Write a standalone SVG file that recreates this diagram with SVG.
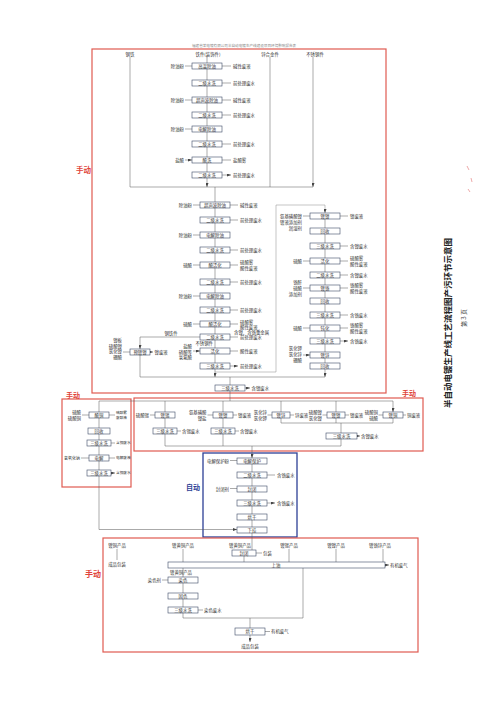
<svg xmlns="http://www.w3.org/2000/svg" width="500" height="707" viewBox="0 0 500 707">
<defs>
<marker id="ar" markerUnits="userSpaceOnUse" markerWidth="4" markerHeight="3" refX="4" refY="1.5" orient="auto"><path d="M0,0 L4,1.5 L0,3 z" fill="#444"/></marker>
<style>
.bx{fill:#fff;stroke:#3d4a66;stroke-width:0.6}
.t{font-family:"Noto Sans CJK SC","Noto Sans",sans-serif;font-size:4.4px;fill:#333}
.s{font-size:3.7px}
.m{text-anchor:middle}
.e{text-anchor:end}
.c{stroke:#555;stroke-width:0.5;fill:none}
.g{stroke:#888;stroke-width:0.5;fill:none}
.a{marker-end:url(#ar)}
.rb{fill:none;stroke:#e05a50;stroke-width:1.2}
.bb{fill:none;stroke:#2d3f96;stroke-width:1.3}
.lab{font-family:"Noto Sans CJK SC",sans-serif;font-size:7.5px;fill:#e0443a;font-weight:bold}
</style>
</defs>
<rect width="500" height="707" fill="#fff"/>
<text class="t" x="192" y="47" style="font-size:3.6px;fill:#888">福建省某电镀有限公司半自动电镀生产线建设项目环境影响报告表</text>
<g id="frames">
<rect class="rb" x="92" y="49" width="294" height="344"/>
<rect class="rb" x="62" y="399" width="69" height="88"/>
<rect class="rb" x="134" y="398" width="289" height="53"/>
<rect class="bb" x="203" y="453" width="94" height="84"/>
<rect class="rb" x="103" y="538" width="315" height="114"/>
<text class="lab" x="76" y="173">手动</text>
<text class="lab" x="66" y="398" style="font-size:7px">手动</text>
<text class="lab" x="402" y="396" style="font-size:7px">手动</text>
<text class="lab" x="186" y="490" style="font-size:7px;fill:#2d3f96">自动</text>
<text class="lab" x="85" y="577" style="font-size:8px">手动</text>
</g>
<g id="title">
<text transform="translate(451,323) rotate(-90)" text-anchor="middle" style="font-family:'Noto Sans CJK SC',sans-serif;font-size:8.5px;font-weight:bold;fill:#222">半自动电镀生产线工艺流程图产污环节示意图</text>
<text transform="translate(466,318) rotate(-90)" text-anchor="middle" style="font-family:'Noto Sans CJK SC',sans-serif;font-size:6px;fill:#444">第 3 页</text>
<path d="M467 166l2 4M471 178l1 4M468 189l2 3" stroke="#e07070" stroke-width="0.6" fill="none"/>
</g>
<g id="connectors">
<path class="c a" d="M130 57V187M270 57V187M313 57V187"/>
<path class="c" d="M130 187H313"/>
<path class="c a" d="M207 57V63M207 69V80M207 86V97M207 103V112M207 118V126M207 132V141M207 147V157M207 163V172M207 178V187"/>
<path class="c a" d="M185 66H192M185 100H192M185 129H192M185 160H192"/>
<path class="c a" d="M222 66H231M222 83H231M222 100H231M222 115H231M222 144H231M222 160H231M222 175H231"/>
<path class="c a" d="M215 187V202M215 208V217M215 223V232M215 238V247M215 253V262M215 268V279M215 285V293M215 299V307M215 313V321M215 327V334M215 340V348M215 354V363M215 369V377"/>
<path class="c a" d="M193 205H200M193 235H200M193 265H200M193 296H200M193 324H200M193 351H200"/>
<path class="c a" d="M230 205H238M230 220H238M230 250H238M230 265H238M230 282H238M230 310H238M230 324H238M230 337H238M230 351H238M230 366H238"/>
<path class="c a" d="M200 337H140V349"/>
<path class="c" d="M140 355V377M140 377H325"/>
<path class="c a" d="M123 352H130M150 352H153"/>
<path class="g a" d="M215 372H276V205H325V213"/>
<path class="c a" d="M325 218V228M325 234V243M325 249V258M325 264V272M325 278V285M325 291V298M325 304V312M325 318V325M325 331V338M325 344V352M325 358V363M325 369V377"/>
<path class="c a" d="M303 216H310M303 261H310M303 288H310M303 328H310M303 355H310"/>
<path class="c a" d="M340 216H348M340 246H348M340 261H348M340 275H348M340 288H348M340 315H348M340 328H348M340 341H348"/>
<path class="c a" d="M230 377V385M245 388H250"/>
<path class="c" d="M230 391V401M99 401H393"/>
<path class="c a" d="M99 401V412M165 401V412M223 401V412M281 401V412M336 401V412M393 401V412"/>
<path class="c a" d="M99 417V428M99 434V440M99 446V455M99 461V470M99 476V529.5H237"/>
<path class="c a" d="M82 415H89M109 415H115M111 443H115M81 458H89M109 458H115M111 473H115"/>
<path class="c a" d="M150 415H155M165 417V428M177 431H181M207.5 415H213M233 415H237M223 417V428M235 431H239M267.5 415H272M290 415H294M322.5 415H327M345 415H349M378.5 415H383M403 415H406M357 436H360"/>
<path class="c" d="M165 434V446M223 434V446M281 417V423M336 417V423M393 417V423M281 423H393M341 439V446M165 446H341"/>
<path class="c a" d="M341 423V433M252 446V458"/>
<path class="c a" d="M252 463V472M252 477V486M252 491V500M252 505V514M252 519V527M252 532V550M230 460.5H237M230 488.5H237M267 475H275M267 503H275"/>
<path class="c a" d="M117 549V560M183 549V562M289 549V562M336 549V562M383 549V562M244 556V562M256 553H262M385 565H389"/>
<path class="c a" d="M183 568V577M183 583V593M183 599V607M162 580H168M198 610H203M303 568V618M250 618V628M265 631.5H270M250 635V642"/>
<path class="c" d="M183 613V618H303"/>
</g>
<g id="labels-top">
<text class="t m" x="130" y="55.5">钢铁</text>
<text class="t m" x="208" y="55.5">铁件(装饰件)</text>
<text class="t m" x="270" y="55.5">锌合金件</text>
<text class="t m" x="315" y="55.5">不锈钢件</text>
</g>
<g id="chain1">
<g id="c1n1"><rect class="bx" x="192" y="63" width="30" height="6"/><text class="t m" x="207" y="67.6">高温除油</text><text class="t e" x="184" y="67.6">除油粉</text><text class="t" x="233" y="67.6">碱性废液</text></g>
<g id="c1n2"><rect class="bx" x="192" y="80" width="30" height="6"/><text class="t m" x="207" y="84.6">二级水洗</text><text class="t" x="233" y="84.6">前处理废水</text></g>
<g id="c1n3"><rect class="bx" x="192" y="97" width="30" height="6"/><text class="t m" x="207" y="101.6">超声波除油</text><text class="t e" x="184" y="101.6">除油粉</text><text class="t" x="233" y="101.6">碱性废液</text></g>
<g id="c1n4"><rect class="bx" x="192" y="112" width="30" height="6"/><text class="t m" x="207" y="116.6">二级水洗</text><text class="t" x="233" y="116.6">前处理废水</text></g>
<g id="c1n5"><rect class="bx" x="192" y="126" width="30" height="6"/><text class="t m" x="207" y="130.6">电解除油</text><text class="t e" x="184" y="130.6">除油粉</text></g>
<g id="c1n6"><rect class="bx" x="192" y="141" width="30" height="6"/><text class="t m" x="207" y="145.6">二级水洗</text><text class="t" x="233" y="145.6">前处理废水</text></g>
<g id="c1n7"><rect class="bx" x="192" y="157" width="30" height="6"/><text class="t m" x="207" y="161.6">酸洗</text><text class="t e" x="184" y="161.6">盐酸</text><text class="t" x="233" y="161.6">盐酸雾</text></g>
<g id="c1n8"><rect class="bx" x="192" y="172" width="30" height="6"/><text class="t m" x="207" y="176.6">二级水洗</text><text class="t" x="233" y="176.6">前处理废水</text></g>
</g>
<g id="chain2">
<g id="c2n1"><rect class="bx" x="200" y="202" width="30" height="6"/><text class="t m" x="215" y="206.6">超声波除油</text><text class="t e" x="192" y="206.6">除油粉</text><text class="t" x="240" y="206.6">碱性废液</text></g>
<g id="c2n2"><rect class="bx" x="200" y="217" width="30" height="6"/><text class="t m" x="215" y="221.6">二级水洗</text><text class="t" x="240" y="221.6">前处理废水</text></g>
<g id="c2n3"><rect class="bx" x="200" y="232" width="30" height="6"/><text class="t m" x="215" y="236.6">电解除油</text><text class="t e" x="192" y="236.6">除油粉</text></g>
<g id="c2n4"><rect class="bx" x="200" y="247" width="30" height="6"/><text class="t m" x="215" y="251.6">二级水洗</text><text class="t" x="240" y="251.6">前处理废水</text></g>
<g id="c2n5"><rect class="bx" x="200" y="262" width="30" height="6"/><text class="t m" x="215" y="266.6">酸活化</text><text class="t e" x="192" y="266.6">硫酸</text><text class="t" x="240" y="264">硫酸雾</text><text class="t" x="240" y="269.5">酸性废液</text></g>
<g id="c2n6"><rect class="bx" x="200" y="279" width="30" height="6"/><text class="t m" x="215" y="283.6">二级水洗</text><text class="t" x="240" y="283.6">前处理废水</text></g>
<g id="c2n7"><rect class="bx" x="200" y="293" width="30" height="6"/><text class="t m" x="215" y="297.6">电解除油</text><text class="t e" x="192" y="297.6">除油粉</text></g>
<g id="c2n8"><rect class="bx" x="200" y="307" width="30" height="6"/><text class="t m" x="215" y="311.6">二级水洗</text><text class="t" x="240" y="311.6">前处理废水</text></g>
<g id="c2n9"><rect class="bx" x="200" y="321" width="30" height="6"/><text class="t m" x="215" y="325.6">酸活化</text><text class="t e" x="192" y="325.6">硫酸</text><text class="t" x="240" y="323.6">硫酸雾</text><text class="t" x="240" y="329">酸性废液</text><text class="t" x="234" y="334">含镍、含铬重金属</text></g>
<g id="c2n10"><rect class="bx" x="200" y="334" width="30" height="6"/><text class="t m" x="215" y="338.6">二级水洗</text><text class="t" x="240" y="339">前处理废水</text><text class="t m" x="171" y="335">钢铁件</text><text class="t e" x="213" y="345">不锈钢件</text></g>
<g id="c2n11"><rect class="bx" x="200" y="348" width="30" height="6"/><text class="t m" x="215" y="352.6">活化</text><text class="t e" x="192" y="348">盐酸</text><text class="t e" x="192" y="353.5">硝酸等</text><text class="t e" x="192" y="359">氢氟酸</text><text class="t" x="240" y="352.6">酸性废液</text></g>
<g id="c2n12"><rect class="bx" x="200" y="363" width="30" height="6"/><text class="t m" x="215" y="367.6">三级水洗</text><text class="t" x="240" y="367.6">前处理废水</text></g>
<g id="br1"><rect class="bx" x="130" y="349" width="20" height="6"/><text class="t m" x="140" y="353.6">预镀镍</text><text class="t e" x="122" y="342">镍板</text><text class="t e" x="122" y="347.5">硫酸镍</text><text class="t e" x="122" y="353">氯化镍</text><text class="t e" x="122" y="358.5">硼酸</text><text class="t" x="154.5" y="353.6">镍废液</text></g>
<g id="fin1"><rect class="bx" x="215" y="385" width="30" height="6"/><text class="t m" x="230" y="389.6">三级水洗</text><text class="t" x="251.5" y="389.6">含镍废水</text></g>
</g>
<g id="chain3">
<g id="c3n1"><rect class="bx" x="310" y="213" width="30" height="6"/><text class="t m" x="325" y="217.6">镀镍</text><text class="t e" x="302" y="217.5">氨基磺酸镍</text><text class="t e" x="302" y="223.5">镀液添加剂</text><text class="t e" x="302" y="229.5">润湿剂</text><text class="t" x="350" y="217.6">镍废液</text></g>
<g id="c3n2"><rect class="bx" x="310" y="228" width="30" height="6"/><text class="t m" x="325" y="232.6">回收</text></g>
<g id="c3n3"><rect class="bx" x="310" y="243" width="30" height="6"/><text class="t m" x="325" y="247.6">三级水洗</text><text class="t" x="350" y="247.6">含镍废水</text></g>
<g id="c3n4"><rect class="bx" x="310" y="258" width="30" height="6"/><text class="t m" x="325" y="262.6">活化</text><text class="t e" x="302" y="262.6">硫酸</text><text class="t" x="350" y="260">硫酸雾</text><text class="t" x="350" y="265.5">酸性废液</text></g>
<g id="c3n5"><rect class="bx" x="310" y="272" width="30" height="6"/><text class="t m" x="325" y="276.6">二级水洗</text><text class="t" x="350" y="276.6">含镍废水</text></g>
<g id="c3n6"><rect class="bx" x="310" y="285" width="30" height="6"/><text class="t m" x="325" y="289.6">镀铬</text><text class="t e" x="302" y="284">铬酐</text><text class="t e" x="302" y="290">硫酸</text><text class="t e" x="302" y="296">添加剂</text><text class="t" x="350" y="287">铬酸雾</text><text class="t" x="350" y="292.5">酸性废液</text></g>
<g id="c3n7"><rect class="bx" x="310" y="298" width="30" height="6"/><text class="t m" x="325" y="302.6">回收</text></g>
<g id="c3n8"><rect class="bx" x="310" y="312" width="30" height="6"/><text class="t m" x="325" y="316.6">三级水洗</text><text class="t" x="350" y="316.6">含铬废水</text></g>
<g id="c3n9"><rect class="bx" x="310" y="325" width="30" height="6"/><text class="t m" x="325" y="329.6">钝化</text><text class="t e" x="302" y="329.6">硫酸</text><text class="t" x="350" y="327">铬酸雾</text><text class="t" x="350" y="332.5">酸性废液</text></g>
<g id="c3n10"><rect class="bx" x="310" y="338" width="30" height="6"/><text class="t m" x="325" y="342.6">三级水洗</text><text class="t" x="350" y="342.6">含铬废水</text></g>
<g id="c3n11"><rect class="bx" x="310" y="352" width="30" height="6"/><text class="t m" x="325" y="356.6">镀锌</text><text class="t e" x="302" y="350">氯化钾</text><text class="t e" x="302" y="356">氯化锌</text><text class="t e" x="302" y="362">硼酸</text></g>
<g id="c3n12"><rect class="bx" x="310" y="363" width="30" height="6"/><text class="t m" x="325" y="367.6">回收</text></g>
</g>
<g id="sec2left">
<g id="l1"><rect class="bx" x="89" y="412" width="20" height="6"/><text class="t m" x="99" y="416.6">酸铜</text><text class="t e" x="81" y="413.5">硫酸</text><text class="t e" x="81" y="419.5">硫酸铜</text><text class="t s" x="116" y="413.5">硫酸雾</text><text class="t s" x="116" y="419">废酸液</text></g>
<g id="l2"><rect class="bx" x="88" y="428" width="22" height="6"/><text class="t m" x="99" y="432.6">回收</text></g>
<g id="l3"><rect class="bx" x="87" y="440" width="24" height="6"/><text class="t m" x="99" y="444.6">三级水洗</text><text class="t s" x="116" y="444.3">含铜废水</text></g>
<g id="l4"><rect class="bx" x="89" y="455" width="20" height="6"/><text class="t m" x="99" y="459.6">电解</text><text class="t e" x="80" y="459.6" style="font-size:4px">氢氧化钠</text><text class="t s" x="116" y="459.3">电解废液</text></g>
<g id="l5"><rect class="bx" x="87" y="470" width="24" height="6"/><text class="t m" x="99" y="474.6">三级水洗</text><text class="t s" x="116" y="474.3">含铜废水</text></g>
</g>
<g id="sec2mid">
<g id="mA1"><rect class="bx" x="155" y="412" width="20" height="6"/><text class="t m" x="165" y="416.6">镀锡</text><text class="t e" x="149" y="416.6">硫酸锡</text></g>
<g id="mA2"><rect class="bx" x="153" y="428" width="24" height="6"/><text class="t m" x="165" y="432.6">三级水洗</text><text class="t" x="182" y="432.6">含锡废水</text></g>
<g id="mB1"><rect class="bx" x="213" y="412" width="20" height="6"/><text class="t m" x="223" y="416.6">镀镍</text><text class="t e" x="206.5" y="413.5">氨基磺酸</text><text class="t e" x="206.5" y="419.5">镍盐</text><text class="t" x="238" y="416.6">镍废液</text></g>
<g id="mB2"><rect class="bx" x="211" y="428" width="24" height="6"/><text class="t m" x="223" y="432.6">三级水洗</text><text class="t" x="240" y="432.6">含镍废水</text></g>
<g id="mC"><rect class="bx" x="272" y="412" width="18" height="6"/><text class="t m" x="281" y="416.6">镀锌</text><text class="t e" x="267" y="413.5">氯化锌</text><text class="t e" x="267" y="419.5">氯化钾</text><text class="t" x="295" y="416.6">锌废液</text></g>
<g id="mD"><rect class="bx" x="327" y="412" width="18" height="6"/><text class="t m" x="336" y="416.6">镀镍</text><text class="t e" x="322" y="413.5">硫酸镍</text><text class="t e" x="322" y="419.5">氯化镍</text><text class="t" x="350" y="416.6">镍废液</text></g>
<g id="mE"><rect class="bx" x="383" y="412" width="20" height="6"/><text class="t m" x="393" y="416.6">镀铜</text><text class="t e" x="378" y="413.5">硫酸铜</text><text class="t e" x="378" y="419.5">硫酸</text><text class="t" x="407" y="416.6">铜废液</text></g>
<g id="mF"><rect class="bx" x="326" y="433" width="31" height="6"/><text class="t m" x="341.5" y="437.6">三级水洗</text><text class="t" x="361" y="437.6">含镍废水</text></g>
</g>
<g id="auto">
<g id="b1"><rect class="bx" x="237" y="458" width="30" height="6"/><text class="t m" x="252" y="462.6">电解保护</text><text class="t e" x="229" y="462.6">电解保护粉</text></g>
<g id="b2"><rect class="bx" x="237" y="472" width="30" height="6"/><text class="t m" x="252" y="476.6">二级水洗</text><text class="t" x="277" y="476.6">含铬废水</text></g>
<g id="b3"><rect class="bx" x="237" y="486" width="30" height="6"/><text class="t m" x="252" y="490.6">封闭</text><text class="t e" x="229" y="490.6">封闭剂</text></g>
<g id="b4"><rect class="bx" x="237" y="500" width="30" height="6"/><text class="t m" x="252" y="504.6">三级水洗</text><text class="t" x="277" y="504.6">含铬废水</text></g>
<g id="b5"><rect class="bx" x="237" y="514" width="30" height="6"/><text class="t m" x="252" y="518.6">烘干</text></g>
<g id="b6"><rect class="bx" x="237" y="527" width="30" height="6"/><text class="t m" x="252" y="531.6">下挂</text></g>
</g>
<g id="sec3">
<text class="t m" x="117" y="547">镀铜产品</text>
<text class="t m" x="117" y="566">成品包装</text>
<text class="t m" x="183" y="547">镀黄铜产品</text>
<text class="t m" x="240" y="547">镀黄铜产品</text>
<text class="t m" x="289" y="547">镀锡产品</text>
<text class="t m" x="336" y="547">镀镍产品</text>
<text class="t m" x="380" y="547">镀铬锌产品</text>
<g id="p1"><rect class="bx" x="232" y="550" width="24" height="6"/><text class="t m" x="244" y="554.6">封闭</text><text class="t" x="263" y="554.6">包装</text></g>
<g id="p2"><rect class="bx" x="168" y="562" width="217" height="6"/><text class="t m" x="276" y="566.6">上油</text><text class="t" x="390" y="566.6">有机废气</text></g>
<text class="t" x="170" y="574">镀黄铜产品</text>
<g id="p3"><rect class="bx" x="168" y="577" width="30" height="6"/><text class="t m" x="183" y="581.6">染色</text><text class="t e" x="161" y="581.6">染色剂</text></g>
<g id="p4"><rect class="bx" x="168" y="593" width="30" height="6"/><text class="t m" x="183" y="597.6">固色</text></g>
<g id="p5"><rect class="bx" x="168" y="607" width="30" height="6"/><text class="t m" x="183" y="611.6">三级水洗</text><text class="t" x="204" y="611.6">染色废水</text></g>
<g id="p6"><rect class="bx" x="235" y="628" width="30" height="7"/><text class="t m" x="250" y="633">烘干</text><text class="t" x="271" y="633">有机废气</text></g>
<text class="t m" x="250" y="648">成品包装</text>
</g>
</svg>
